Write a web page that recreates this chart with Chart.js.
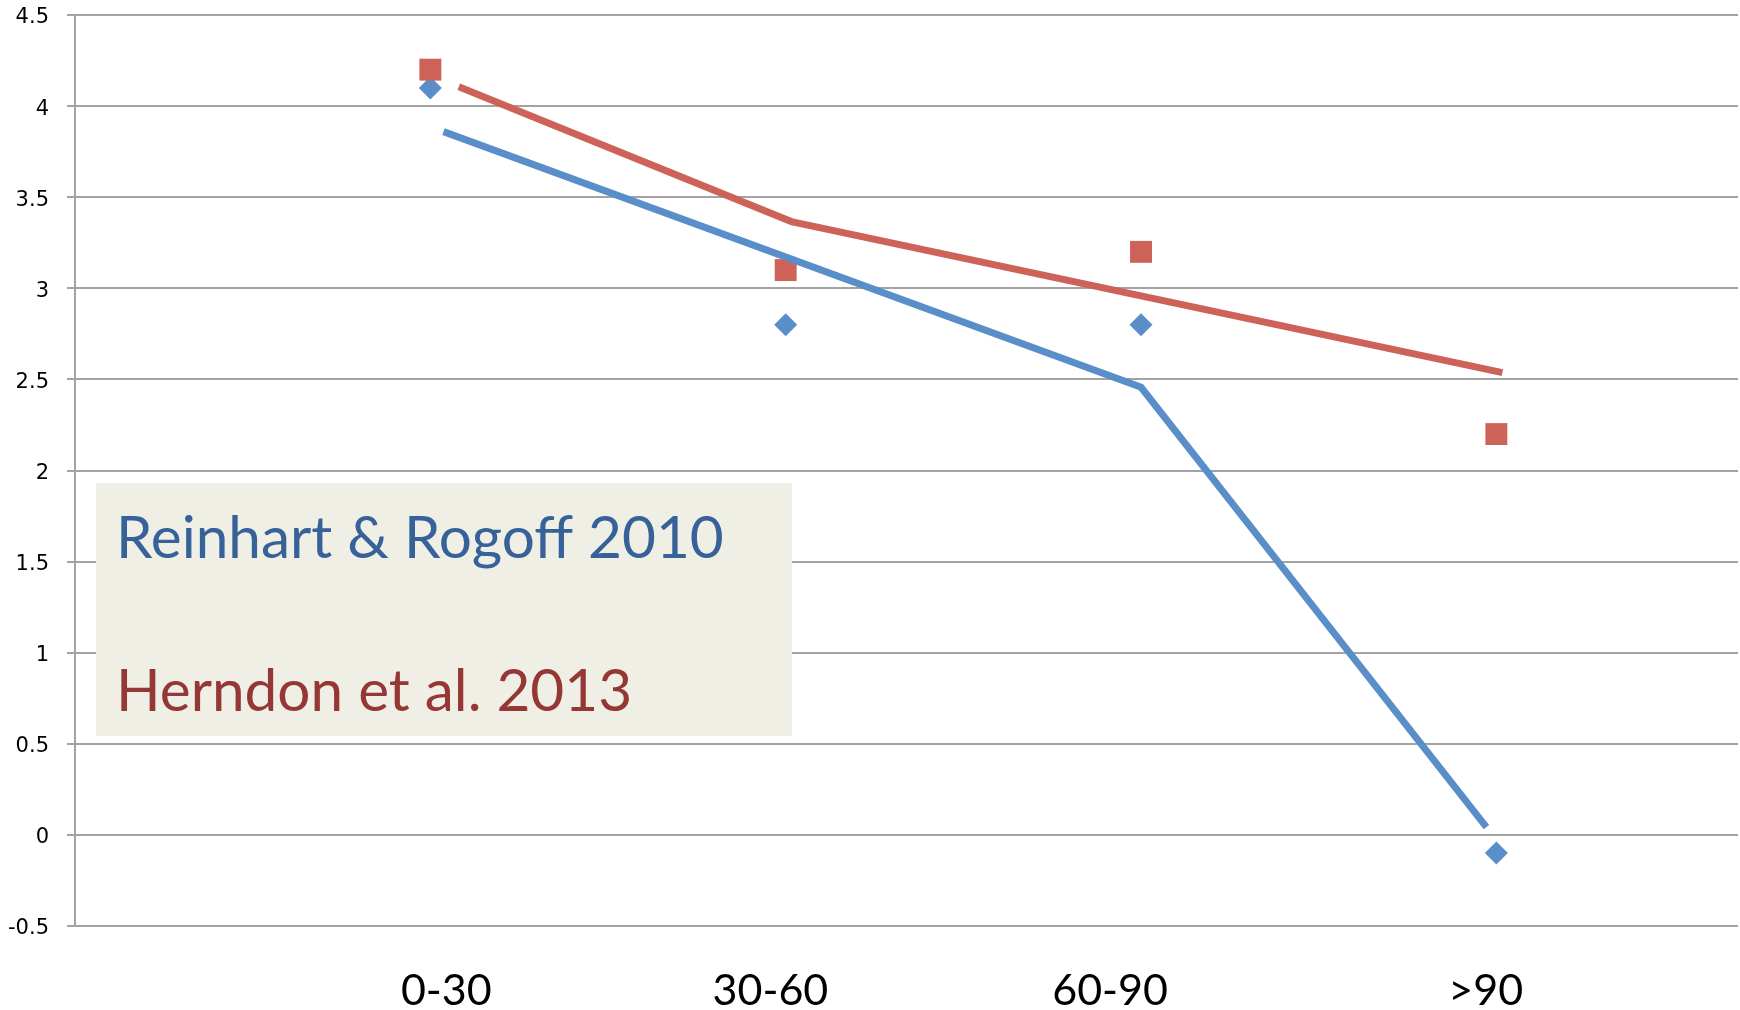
<!DOCTYPE html>
<html>
<head>
<meta charset="utf-8">
<script src="https://cdn.jsdelivr.net/npm/chart.js@4"></script>
<style>
  html, body { margin: 0; padding: 0; background: #ffffff; }
  #wrap { width: 1740px; height: 1010px; position: relative; }
</style>
</head>
<body>
<div id="wrap"><canvas id="c" width="1740" height="1010"></canvas></div>
<script>
// ---- data ----
const categories = ['0-30', '30-60', '60-90', '>90'];
const categoryPos = [1, 2, 3, 4];                 // x position of the data points
const labelPos = [1.045, 1.957, 2.913, 3.97];      // x position of the category labels
const seriesNames = ['Reinhart & Rogoff 2010', 'Herndon et al. 2013'];
const reinhartRogoff = [4.1, 2.8, 2.8, -0.1];
const herndon = [4.2, 3.1, 3.2, 2.2];
const rrLineX = [1.037, 3.0, 3.972];
const rrLineY = [3.86, 2.457, 0.043];
const hLineX = [1.08, 2.016, 4.017];
const hLineY = [4.106, 3.366, 2.537];
const yMin = -0.5, yMax = 4.5, yStep = 0.5;
const xMin = 0, xMax = 4.68;

const BLUE = '#5A8EC8';
const RED = '#CD6259';
const GRID = '#A3A3A3';

const toXY = (xs, ys) => xs.map((x, i) => ({ x: x, y: ys[i] }));

const annotationBox = {
  id: 'annotationBox',
  beforeDatasetsDraw(chart) {
    const ctx = chart.ctx;
    ctx.save();
    ctx.fillStyle = '#EFEFE6';
    ctx.fillRect(96, 483, 696, 253);
    ctx.font = '58.5px Lato';
    ctx.textBaseline = 'alphabetic';
    ctx.textAlign = 'left';
    ctx.fillStyle = '#366199';
    ctx.fillText(seriesNames[0], 116, 558);
    ctx.fillStyle = '#953735';
    ctx.fillText(seriesNames[1], 116, 711);
    ctx.restore();
  }
};

new Chart(document.getElementById('c'), {
  type: 'scatter',
  data: {
    datasets: [
      {
        label: seriesNames[0] + ' line',
        type: 'line',
        data: toXY(rrLineX, rrLineY),
        borderColor: BLUE,
        borderWidth: 7,
        borderCapStyle: 'butt',
        borderJoinStyle: 'miter',
        pointRadius: 0,
        fill: false,
        tension: 0,
        order: 1
      },
      {
        label: seriesNames[1] + ' line',
        type: 'line',
        data: toXY(hLineX, hLineY),
        borderColor: RED,
        borderWidth: 7,
        borderCapStyle: 'butt',
        borderJoinStyle: 'miter',
        pointRadius: 0,
        fill: false,
        tension: 0,
        order: 0
      },
      {
        label: seriesNames[1],
        data: toXY(categoryPos, herndon),
        pointStyle: 'rect',
        pointRadius: 15.5,
        pointHoverRadius: 15.5,
        backgroundColor: RED,
        borderColor: RED,
        borderWidth: 0,
        order: 2
      },
      {
        label: seriesNames[0],
        data: toXY(categoryPos, reinhartRogoff),
        pointStyle: 'rectRot',
        pointRadius: 11.5,
        pointHoverRadius: 11.5,
        backgroundColor: BLUE,
        borderColor: BLUE,
        borderWidth: 0,
        order: 3
      }
    ]
  },
  options: {
    responsive: false,
    animation: false,
    events: [],
    layout: { autoPadding: false, padding: { top: 0, right: 2, bottom: 0, left: 0 } },
    plugins: {
      legend: { display: false },
      tooltip: { enabled: false }
    },
    scales: {
      x: {
        type: 'linear',
        position: 'bottom',
        min: xMin,
        max: xMax,
        afterBuildTicks(scale) {
          scale.ticks = labelPos.map(v => ({ value: v }));
        },
        afterFit(scale) {
          scale.height = 84;
          scale.paddingLeft = 0;
          scale.paddingRight = 0;
        },
        grid: { display: false, drawTicks: false, tickLength: 0 },
        border: { display: false },
        ticks: {
          autoSkip: false,
          maxRotation: 0,
          minRotation: 0,
          padding: 39,
          color: '#000000',
          font: { family: 'Lato', size: 43 },
          callback: (value, index) => categories[index]
        }
      },
      y: {
        type: 'linear',
        min: yMin,
        max: yMax,
        afterFit(scale) {
          scale.width = 75;
          scale.paddingTop = 15;
          scale.paddingBottom = 0;
        },
        grid: {
          color: GRID,
          lineWidth: 2,
          drawTicks: true,
          tickLength: 8,
          tickColor: GRID
        },
        border: { display: true, color: GRID, width: 2 },
        ticks: {
          stepSize: yStep,
          padding: 18,
          labelOffset: 3,
          color: '#000000',
          font: { family: 'DejaVu Sans', size: 21 },
          callback: (value) => String(Math.round(value * 10) / 10)
        }
      }
    }
  },
  plugins: [annotationBox]
});
</script>
</body>
</html>
